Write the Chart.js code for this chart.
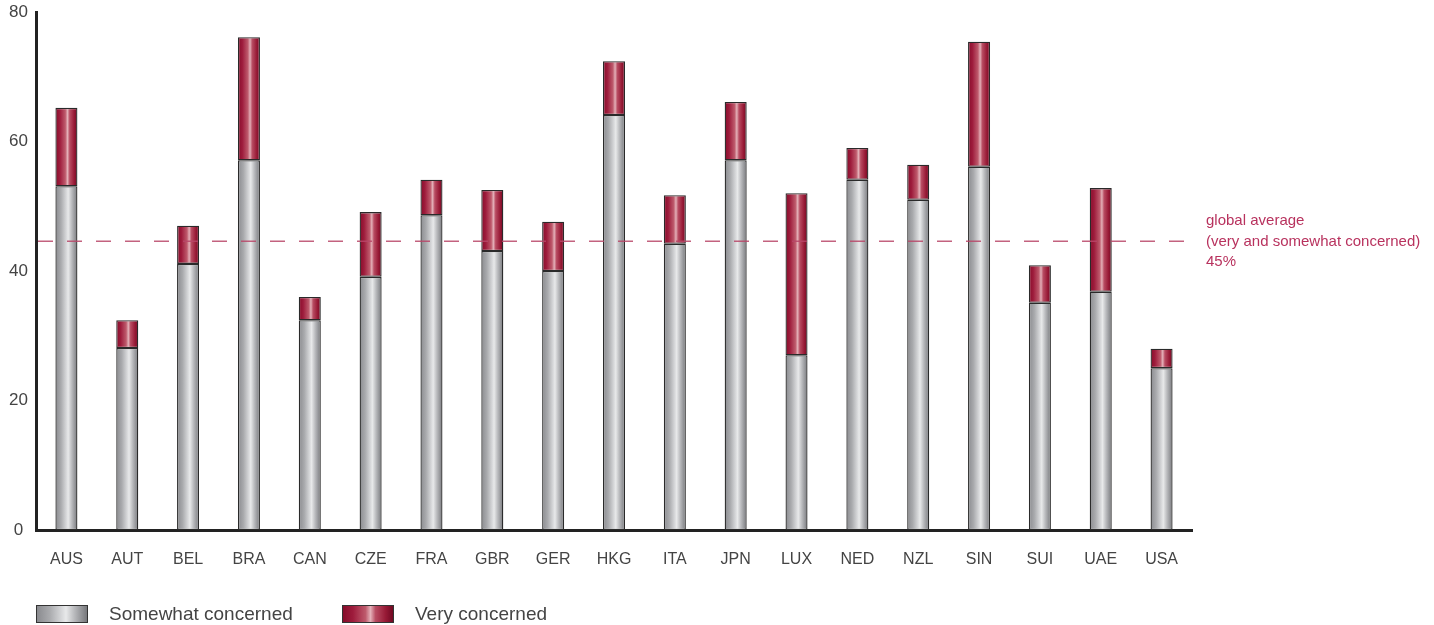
<!DOCTYPE html>
<html>
<head>
<meta charset="utf-8">
<script src="https://cdn.jsdelivr.net/npm/chart.js@4.4.0/dist/chart.umd.min.js"></script>
<style>
  html, body { margin: 0; padding: 0; background: #fff; overflow: hidden; }
  #wrap { position: relative; width: 1434px; height: 625px; }
  canvas { display: block; }
  #legend { position: absolute; left: 36px; top: 604px; font-family: "Liberation Sans", Arial, sans-serif; font-size: 19px; color: #444; }
  #legend span.sw { position: absolute; top: 1px; width: 52px; height: 18px; box-sizing: border-box; border: 1px solid #333; }
  #legend span.tx { position: absolute; top: -1px; white-space: nowrap; }
</style>
</head>
<body>
<div id="wrap">
  <canvas id="chart" width="1434" height="625"></canvas>
  <div id="legend">
    <span class="sw" style="left:0; background: linear-gradient(to right, #8a8b8f, #a9aaad 25%, #d8d9db 50%, #e8e9ea 58%, #b8b9bc 75%, #77787c);"></span>
    <span class="tx" style="left:73px;">Somewhat concerned</span>
    <span class="sw" style="left:306px; background: linear-gradient(to right, #860c2a, #9e1c3c 20%, #be5a6c 45%, #e4b0b8 55%, #b84c62 65%, #981a36 85%, #700822);"></span>
    <span class="tx" style="left:379px;">Very concerned</span>
  </div>
</div>
<script>
const countries = ["AUS", "AUT", "BEL", "BRA", "CAN", "CZE", "FRA", "GBR", "GER", "HKG",
                   "ITA", "JPN", "LUX", "NED", "NZL", "SIN", "SUI", "UAE", "USA"];
// somewhat concerned (grey part)
const somewhat = [53.1, 28.1, 41.1, 57.1, 32.4, 39.1, 48.6, 43.1, 40.0, 64.1,
                  44.2, 57.1, 27.0, 54.1, 51.0, 56.1, 35.1, 36.8, 25.0];
// very concerned (red part, stacked on top)
const very = [12.1, 4.3, 5.9, 19.0, 3.6, 10.0, 5.5, 9.4, 7.6, 8.3,
              7.5, 9.0, 25.0, 4.9, 5.4, 19.3, 5.8, 16.0, 3.0];
const globalAverage = 44.6;
const averageLabel = ["global average", "(very and somewhat concerned)", "45%"];
const yTicks = [0, 20, 40, 60, 80];

const BAR_HALF = 11;

function barGradient(c, stops) {
    const chart = c.chart;
    const xs = chart.scales.x;
    if (c.type !== "data" || !xs || xs.width == null) return stops[2][1];
    const cx = xs.getPixelForValue(c.dataIndex);
    if (!isFinite(cx)) return stops[2][1];
    const g = chart.ctx.createLinearGradient(cx - BAR_HALF, 0, cx + BAR_HALF, 0);
    stops.forEach(s => g.addColorStop(s[0], s[1]));
    return g;
}

const greyStops = [[0, "#8a8b8f"], [0.25, "#a9aaad"], [0.5, "#d8d9db"], [0.58, "#e8e9ea"], [0.75, "#b8b9bc"], [1, "#77787c"]];
const redStops = [[0, "#860c2a"], [0.2, "#9e1c3c"], [0.45, "#be5a6c"], [0.55, "#e4b0b8"], [0.65, "#b84c62"], [0.85, "#981a36"], [1, "#700822"]];

// dashed global average line + its label
const averagePlugin = {
    id: "averageLine",
    afterDatasetsDraw(chart) {
        const ctx = chart.ctx;
        const area = chart.chartArea;
        const y = chart.scales.y.getPixelForValue(globalAverage);
        ctx.save();
        ctx.strokeStyle = "rgba(185, 70, 105, 0.85)";
        ctx.lineWidth = 1.6;
        ctx.setLineDash([15, 14]);
        ctx.beginPath();
        ctx.moveTo(area.left + 2, y);
        ctx.lineTo(area.right - 6, y);
        ctx.stroke();
        ctx.setLineDash([]);
        ctx.fillStyle = "#b8325e";
        ctx.font = "15px 'Liberation Sans', Arial, sans-serif";
        ctx.textBaseline = "middle";
        averageLabel.forEach((t, i) => {
            ctx.fillText(t, area.right + 14, y - 20 + i * 20.5);
        });
        ctx.restore();
    }
};

const ctx = document.getElementById("chart").getContext("2d");

const chart = new Chart(ctx, {
    type: "bar",
    data: {
        labels: countries,
        datasets: [
            {
                label: "Somewhat concerned",
                data: somewhat,
                backgroundColor: c => barGradient(c, greyStops),
                borderColor: "#2a2a2a",
                borderWidth: 1.3,
                borderSkipped: false,
            },
            {
                label: "Very concerned",
                data: very,
                backgroundColor: c => barGradient(c, redStops),
                borderColor: "#2a2a2a",
                borderWidth: 1.3,
                borderSkipped: false,
            }
        ]
    },
    options: {
        responsive: false,
        animation: false,
        devicePixelRatio: 1,
        categoryPercentage: 1,
        barPercentage: 0.362,
        layout: {
            padding: { top: 12, right: 242, bottom: 0, left: 0 }
        },
        plugins: {
            legend: { display: false },
            tooltip: { enabled: false }
        },
        scales: {
            x: {
                stacked: true,
                grid: { display: false, drawTicks: false },
                border: { color: "#222", width: 3 },
                ticks: {
                    padding: 20,
                    color: "#444",
                    font: { family: "'Liberation Sans', Arial, sans-serif", size: 16 }
                },
                afterFit(scale) { scale.height = 95; }
            },
            y: {
                stacked: true,
                min: 0,
                max: 80,
                afterBuildTicks(scale) { scale.ticks = yTicks.map(v => ({ value: v })); },
                grid: { display: false, drawTicks: false },
                border: { color: "#222", width: 3 },
                ticks: {
                    padding: 8,
                    crossAlign: "center",
                    color: "#444",
                    font: { family: "'Liberation Sans', Arial, sans-serif", size: 17 }
                },
                afterFit(scale) {
                    scale.width = 36;
                    scale.paddingTop = 0;
                    scale.paddingBottom = 0;
                }
            }
        }
    },
    plugins: [averagePlugin]
});
</script>
</body>
</html>
